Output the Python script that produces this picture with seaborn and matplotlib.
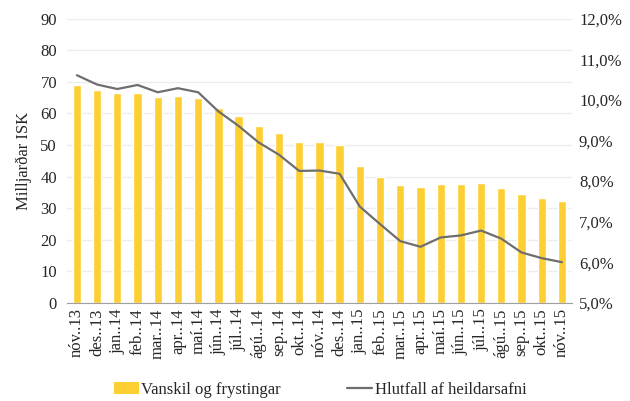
import numpy as np
import pandas as pd
import matplotlib
matplotlib.use("Agg")
import matplotlib.pyplot as plt
from matplotlib.ticker import FuncFormatter, MultipleLocator
from matplotlib.patches import Patch
from matplotlib.lines import Line2D
import seaborn as sns

months = ["nóv..13", "des..13", "jan..14", "feb..14", "mar..14", "apr..14", "maí.14",
          "jún..14", "júl..14", "ágú..14", "sep..14", "okt..14", "nóv..14", "des..14",
          "jan..15", "feb..15", "mar..15", "apr..15", "maí.15", "jún..15", "júl..15",
          "ágú..15", "sep..15", "okt..15", "nóv..15"]
vanskil = [69.0, 67.3, 66.6, 66.5, 65.3, 65.7, 65.0, 61.7, 59.3, 56.1, 53.9, 51.0, 51.0,
           49.9, 43.5, 39.9, 37.3, 36.6, 37.7, 37.8, 38.0, 36.5, 34.5, 33.1, 32.1]
hlutfall = [10.61, 10.38, 10.27, 10.37, 10.19, 10.29, 10.19, 9.72, 9.36, 8.95, 8.65, 8.25, 8.26,
            8.18, 7.37, 6.94, 6.52, 6.38, 6.61, 6.66, 6.78, 6.58, 6.24, 6.10, 6.00]

BAR = "#FDCF33"
LINE = "#6E6E6E"
FS = 12

sns.set_style("white")
plt.rcParams['font.family'] = ['Liberation Serif', 'DejaVu Serif']
plt.rcParams['font.size'] = FS

df = pd.DataFrame({'month': months, 'vanskil': vanskil, 'hlutfall': hlutfall})

fig = plt.figure(figsize=(6.3, 4.01), dpi=100)
ax = fig.add_axes([0.106, 0.245, 0.802, 0.708])
sns.barplot(data=df, x='month', y='vanskil', color=BAR, width=0.41, saturation=1, ax=ax)
ax.set_xlim(-0.5, len(months) - 0.5)
ax.set_ylim(0, 90)
ax.yaxis.set_major_locator(MultipleLocator(10))
ax.grid(axis='y', color='#EDEDED', linewidth=1)
ax.set_axisbelow(True)
ax.set_xlabel("")
ax.set_ylabel("Milljarðar ISK", fontsize=FS, labelpad=6)
ax.tick_params(axis='x', rotation=90, length=0, pad=4, labelsize=FS)
ax.tick_params(axis='y', length=0, pad=7, labelsize=FS)
for s in ['top', 'right', 'left']:
    ax.spines[s].set_visible(False)
ax.spines['bottom'].set_color('#A0A0A0')

ax2 = ax.twinx()
sns.lineplot(x=np.arange(len(months)), y=df['hlutfall'], color=LINE, linewidth=1.6, ax=ax2)
ax2.set_ylim(5, 12)
ax2.yaxis.set_major_locator(MultipleLocator(1))
ax2.yaxis.set_major_formatter(FuncFormatter(lambda v, p: f"{v:.1f}%".replace('.', ',')))
ax2.tick_params(axis='y', length=0, pad=5, labelsize=FS)
ax2.set_ylabel("")
for s in ax2.spines.values():
    s.set_visible(False)

handles = [Patch(facecolor=BAR, edgecolor='none'),
           Line2D([0], [0], color=LINE, linewidth=1.6)]
fig.legend(handles, ["Vanskil og frystingar", "Hlutfall af heildarsafni"],
           loc='lower center', bbox_to_anchor=(0.508, -0.03), ncol=2, frameon=False,
           columnspacing=4.0, handlelength=1.5, handleheight=0.7, handletextpad=0.15,
           fontsize=FS)

fig.savefig("out.png", dpi=100)
